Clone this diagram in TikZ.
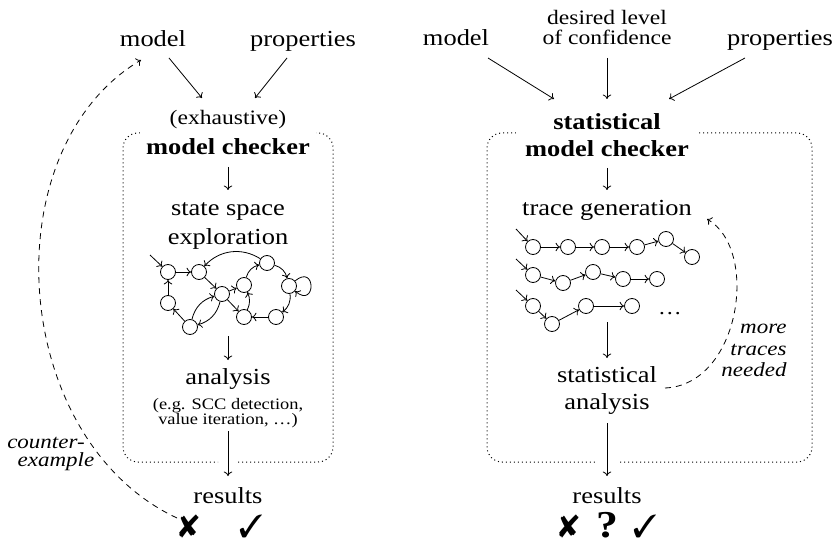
\documentclass[tikz,border=0pt]{standalone}
\usepackage{fontspec}
\setmainfont{Liberation Serif}
\usepackage{graphicx}
\usepackage{pifont}
\usetikzlibrary{arrows.meta}

% Times-like text, set a little wide
\newcommand\wide[1]{\scalebox{1.15}[1]{#1}}
\newcommand\fbig{\fontsize{23}{27}\selectfont}
\newcommand\fmid{\fontsize{20.5}{24}\selectfont}
\newcommand\fsmall{\fontsize{16}{15}\selectfont}
\newcommand\fital{\fontsize{20}{22}\selectfont\itshape}
\newcommand\fsym{\fontsize{32}{32}\selectfont}
\newcommand\fquest{\fontsize{38}{38}\selectfont\bfseries}

\tikzset{
  txt/.style={inner sep=0pt, anchor=base},
  hdr/.style={txt, fill=white, inner xsep=6pt, inner ysep=8pt},
  st/.style={circle, draw, minimum size=15pt, inner sep=0pt},
  arr/.style={->},
  fb/.style={->, dashed, dash pattern=on 6pt off 5pt},
  dotbox/.style={line width=1pt, dash pattern=on 1pt off 3pt, rounded corners=15pt},
}

\begin{document}
\begin{tikzpicture}[x=1pt, y=-1pt, line width=0.8pt,
  >={Computer Modern Rightarrow[length=4.5pt,width=8.5pt]}]
\useasboundingbox (0,0) rectangle (840,545);

% ---------- dotted frames (open where the output arrow leaves) ----------
\draw[dotbox] (238,462) -- (333,462) -- (333,133) -- (123,133) -- (123,462) -- (218,462);
\draw[dotbox] (620,462) -- (812,462) -- (812,133) -- (487,133) -- (487,462) -- (595,462);

% ---------- exhaustive model checking ----------
\node[txt] (mL) at (153,47) {\wide{\fbig model}};
\node[txt] (pL) at (303,47) {\wide{\fbig properties}};
\node[txt] (exh) at (228,125) {\wide{\fmid (exhaustive)}};
\node[hdr] (mcL) at (228,155) {\wide{\fbig\bfseries model checker}};
\node[txt] (ss1) at (228,216) {\wide{\fbig state space}};
\node[txt] (ss2) at (228,245) {\wide{\fbig exploration}};
\node[txt] (aL) at (228,384) {\wide{\fbig analysis}};
\node[txt] (aL1) at (228,409) {\wide{\fsmall (e.g. SCC detection,}};
\node[txt] (aL2) at (228,424) {\wide{\fsmall value iteration, \ldots)}};
\node[txt] (rL) at (228,503) {\wide{\fbig results}};
\node[txt] (xL) at (189,537) {\fsym\ding{56}};
\node[txt] (okL) at (251,537) {\fsym\ding{51}};
\node[txt] (ce1) at (46,448) {\wide{\fital counter-}};
\node[txt] (ce2) at (56,466) {\wide{\fital example}};

% state graph
\node[st] (n1) at (168,272) {};
\node[st] (n2) at (199,272) {};
\node[st] (n3) at (222,294) {};
\node[st] (n4) at (168,303) {};
\node[st] (n5) at (190,327) {};
\node[st] (n6) at (244,285) {};
\node[st] (n7) at (244,317) {};
\node[st] (n8) at (267,263) {};
\node[st] (n9) at (289,286) {};
\node[st] (n10) at (276,317) {};
\coordinate (in0) at (150,255);
\coordinate (gL) at (228,336);

\draw[arr] (in0) -- (n1);
\draw[arr] (n1) -- (n2);
\draw[arr] (n2) -- (n3);
\draw[arr] (n3) -- (n6);
\draw[arr] (n3) -- (n7);
\draw[arr] (n4) -- (n1);
\draw[arr] (n5) -- (n4);
\draw[arr] (n5) to[bend left=30] (n3);
\draw[arr] (n3) to[bend left=30] (n5);
\draw[arr] (n8) to[bend right=40] (n2);
\draw[arr] (n6) to[bend left=30] (n8);
\draw[arr] (n8) to[bend left=30] (n9);
\draw[arr] (n9) to[out=40,in=-40,looseness=7] (n9);
\draw[arr] (n9) to[bend left=30] (n10);
\draw[arr] (n10) -- (n7);
\draw[arr] (n7) to[bend right=25] (n6);

% flow
\draw[arr] ([shift={(16pt,-11pt)}]mL.base) -- ([shift={(-26pt,27pt)}]exh.base);
\draw[arr] ([shift={(-16pt,-11pt)}]pL.base) -- ([shift={(27pt,27pt)}]exh.base);
\draw[arr] ([yshift=-12pt]mcL.base) -- ([yshift=26pt]ss1.base);
\draw[arr] (gL) -- ([yshift=24pt]aL.base);
\draw[arr] ([yshift=-7pt]aL2.base) -- ([yshift=27pt]rL.base);
\draw[fb] ([shift={(-12pt,19pt)}]xL.base) .. controls (10,440) and (-10,150) .. ([shift={(-12pt,-13pt)}]mL.base);

% ---------- statistical model checking ----------
\node[txt] (mR) at (456,46) {\wide{\fbig model}};
\node[txt] (dR1) at (607,25) {\wide{\fmid desired level}};
\node[txt] (dR2) at (607,45) {\wide{\fmid of confidence}};
\node[txt] (pR) at (780,46) {\wide{\fbig properties}};
\node[txt] (st1) at (607,130) {\wide{\fbig\bfseries statistical}};
\node[hdr, inner xsep=9pt, inner ysep=9pt] (st2) at (607,157) {\wide{\fbig\bfseries model checker}};
\node[txt] (tg) at (607,216) {\wide{\fbig trace generation}};
\node[txt] (sa1) at (607,382) {\wide{\fbig statistical}};
\node[txt] (sa2) at (607,409) {\wide{\fbig analysis}};
\node[txt] (rR) at (607,503) {\wide{\fbig results}};
\node[txt] (xR) at (569,537) {\fsym\ding{56}};
\node[txt] (qR) at (607,537) {\wide{\fquest ?}};
\node[txt] (okR) at (645,537) {\fsym\ding{51}};
\node[txt, anchor=base east] (mt1) at (787,333) {\wide{\fital more}};
\node[txt, anchor=base east] (mt2) at (787,355) {\wide{\fital traces}};
\node[txt, anchor=base east] (mt3) at (787,376) {\wide{\fital needed}};

% traces
\node[st] (a1) at (533,247) {};
\node[st] (a2) at (568,247) {};
\node[st] (a3) at (602,247) {};
\node[st] (a4) at (637,247) {};
\node[st] (a5) at (666,239) {};
\node[st] (a6) at (692,257) {};
\node[st] (b1) at (533,275) {};
\node[st] (b2) at (563,283) {};
\node[st] (b3) at (593,272) {};
\node[st] (b4) at (623,279) {};
\node[st] (b5) at (657,279) {};
\node[st] (c1) at (533,306) {};
\node[st] (c2) at (552,324) {};
\node[st] (c3) at (586,306) {};
\node[st] (c4) at (632,306) {};
\node (dots) at (670,314) {\wide{\fmid\ldots}};
\coordinate (ia) at (516,229);
\coordinate (ib) at (516,259);
\coordinate (ic) at (516,290);
\coordinate (gR) at (607,322);

\draw[arr] (ia) -- (a1);
\draw[arr] (a1) -- (a2);
\draw[arr] (a2) -- (a3);
\draw[arr] (a3) -- (a4);
\draw[arr] (a4) -- (a5);
\draw[arr] (a5) -- (a6);
\draw[arr] (ib) -- (b1);
\draw[arr] (b1) -- (b2);
\draw[arr] (b2) -- (b3);
\draw[arr] (b3) -- (b4);
\draw[arr] (b4) -- (b5);
\draw[arr] (ic) -- (c1);
\draw[arr] (c1) -- (c2);
\draw[arr] (c2) -- (c3);
\draw[arr] (c3) -- (c4);

% flow
\draw[arr] ([shift={(32pt,-12pt)}]mR.base) -- ([shift={(-53pt,31pt)}]st1.base);
\draw[arr] ([yshift=-13pt]dR2.base) -- ([yshift=31pt]st1.base);
\draw[arr] ([shift={(-35pt,-12pt)}]pR.base) -- ([shift={(62pt,31pt)}]st1.base);
\draw[arr] ([yshift=-11pt]st2.base) -- ([yshift=26pt]tg.base);
\draw[arr] (gR) -- ([yshift=24pt]sa1.base);
\draw[arr] ([yshift=-14pt]sa2.base) -- ([yshift=27pt]rR.base);
\draw[fb] ([shift={(58pt,-6pt)}]sa1.base) .. controls (740,385) and (760,250) .. ([shift={(100pt,-3pt)}]tg.base);
\end{tikzpicture}
\end{document}
